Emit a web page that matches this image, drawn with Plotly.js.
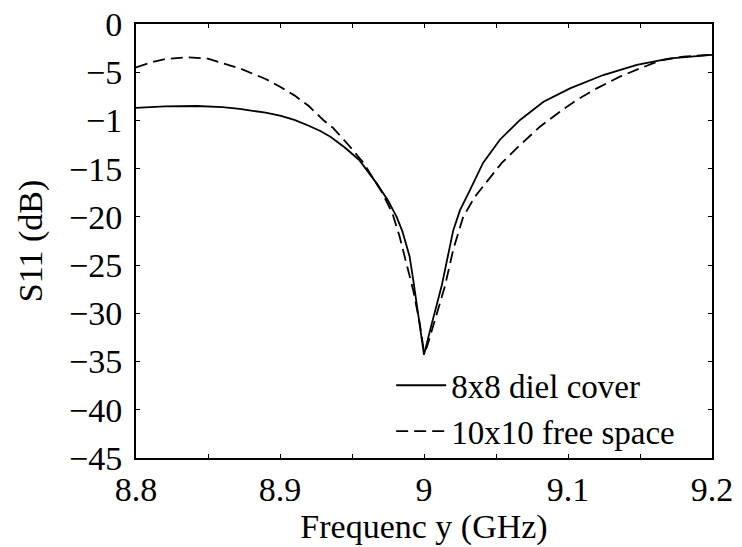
<!DOCTYPE html>
<html>
<head>
<meta charset="utf-8">
<script src="https://cdn.plot.ly/plotly-3.0.1.min.js"></script>
<style>html,body{margin:0;padding:0;background:#fff;}#chart{width:742px;height:547px;}</style>
</head>
<body>
<div id="chart"></div>
<script>
// Series 1: 8x8 diel cover (solid)
const freqSolid = [8.80, 8.82, 8.842, 8.86, 8.872, 8.88, 8.89, 8.90, 8.91, 8.92, 8.928, 8.935, 8.945, 8.955, 8.967, 8.975, 8.981, 8.985, 8.990, 8.9925, 9.000, 9.005, 9.0122, 9.0203, 9.025, 9.032, 9.041, 9.0527, 9.0667, 9.083, 9.1014, 9.1245, 9.1478, 9.171, 9.1987, 9.20];
const s11Solid = [-8.7, -8.55, -8.5, -8.62, -8.8, -8.95, -9.2, -9.5, -9.95, -10.55, -11.1, -11.7, -12.8, -14.1, -16.5, -18.3, -20.0, -21.5, -24.1, -26.5, -34.3, -31.3, -27.2, -21.4, -19.3, -17.2, -14.4, -12.0, -9.95, -8.06, -6.67, -5.29, -4.25, -3.56, -3.21, -3.2];
// Series 2: 10x10 free space (dashed)
const freqDashed = [8.80, 8.81, 8.82, 8.836, 8.85, 8.872, 8.89, 8.90, 8.91, 8.92, 8.93, 8.937, 8.9485, 8.958, 8.971, 8.978, 8.983, 8.9925, 8.997, 9.000, 9.002, 9.0145, 9.0203, 9.0272, 9.0354, 9.0446, 9.054, 9.0667, 9.0805, 9.0944, 9.106, 9.12, 9.136, 9.15, 9.164, 9.18, 9.194, 9.20];
const s11Dashed = [-4.5, -4.0, -3.65, -3.45, -3.6, -4.6, -5.7, -6.5, -7.4, -8.5, -9.95, -10.8, -12.7, -14.4, -17.5, -19.6, -22.0, -27.6, -31.0, -34.0, -33.5, -27.2, -23.4, -20.0, -17.9, -16.2, -14.4, -12.55, -10.65, -9.1, -7.88, -6.67, -5.46, -4.6, -3.8, -3.39, -3.21, -3.18];

const seriesNames = ['8x8 diel cover', '10x10 free space'];
const yTickVals = [0, -5, -10, -15, -20, -25, -30, -35, -40, -45];
const yTickText = ['0', '\u22125', '\u22121', '\u221215', '\u221220', '\u221225', '\u221230', '\u221235', '\u221240', '\u221245'];
const xTickVals = [8.8, 8.9, 9.0, 9.1, 9.2];
const xTickText = ['8.8', '8.9', '9', '9.1', '9.2'];

const serif = '"Liberation Serif", "Times New Roman", Times, serif';

const data = [
  {x: freqSolid, y: s11Solid, name: seriesNames[0], mode: 'lines', type: 'scatter',
   line: {color: '#000', width: 1.8, dash: 'solid'}},
  {x: freqDashed, y: s11Dashed, name: seriesNames[1], mode: 'lines', type: 'scatter',
   line: {color: '#000', width: 1.8, dash: '12px,6px'}}
];

const layout = {
  width: 742, height: 547,
  margin: {l: 136, r: 30, t: 24, b: 89},
  paper_bgcolor: '#fff', plot_bgcolor: '#fff',
  font: {family: serif, color: '#000', size: 32},
  showlegend: true,
  legend: {x: 0.443, y: 0.232, xanchor: 'left', yanchor: 'top', bgcolor: 'rgba(0,0,0,0)',
           font: {family: serif, size: 33, color: '#000'}, tracegroupgap: 0, itemwidth: 50},
  xaxis: {
    range: [8.8, 9.2], tickvals: xTickVals, ticktext: xTickText,
    ticks: 'inside', ticklen: 4, tickwidth: 1, tickcolor: '#000',
    minor: {dtick: 0.05, tick0: 8.8, ticks: 'inside', ticklen: 4, tickcolor: '#000', showgrid: false},
    showline: true, linecolor: '#000', linewidth: 2, mirror: 'allticks',
    showgrid: false, zeroline: false,
    tickfont: {family: serif, size: 34, color: '#000'},
    title: {text: 'Frequenc y (GHz)', font: {family: serif, size: 34, color: '#000'}, standoff: 6}
  },
  yaxis: {
    range: [-45, 0], tickvals: yTickVals, ticktext: yTickText,
    ticks: 'inside', ticklen: 4, tickwidth: 1, tickcolor: '#000',
    ticklabelstandoff: 5,
    showline: true, linecolor: '#000', linewidth: 2, mirror: 'allticks',
    showgrid: false, zeroline: false,
    tickfont: {family: serif, size: 34, color: '#000'},
    title: {text: 'S11 (dB)', font: {family: serif, size: 34, color: '#000'}, standoff: 16}
  }
};

Plotly.newPlot('chart', data, layout, {displayModeBar: false, staticPlot: true});
</script>
</body>
</html>
